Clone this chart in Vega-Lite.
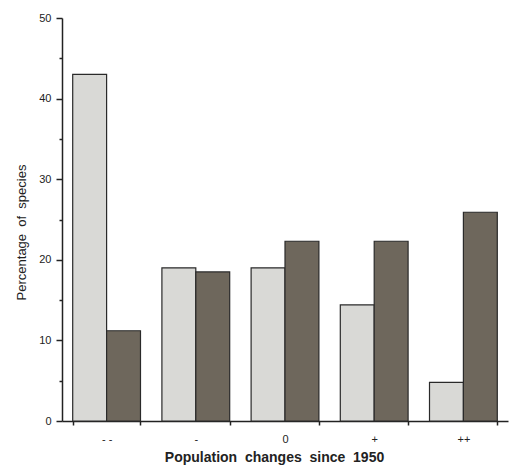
{
  "$schema": "https://vega.github.io/schema/vega-lite/v6.json",
  "autosize": "none",
  "width": 446,
  "height": 403,
  "padding": {"left": 62, "top": 18, "right": 7, "bottom": 55},
  "background": "white",
  "config": {
    "view": {"stroke": null},
    "font": "Liberation Sans",
    "axis": {"domainColor": "#222", "tickColor": "#222", "labelColor": "#222", "titleColor": "#222", "grid": false, "domainWidth": 1.5, "tickWidth": 1.5}
  },
  "data": {
    "values": [
      {"change": "- -", "series": "Series 1", "pct": 43.0},
      {"change": "- -", "series": "Series 2", "pct": 11.2},
      {"change": "-", "series": "Series 1", "pct": 19.0},
      {"change": "-", "series": "Series 2", "pct": 18.5},
      {"change": "0", "series": "Series 1", "pct": 19.0},
      {"change": "0", "series": "Series 2", "pct": 22.3},
      {"change": "+", "series": "Series 1", "pct": 14.4},
      {"change": "+", "series": "Series 2", "pct": 22.3},
      {"change": "++", "series": "Series 1", "pct": 4.8},
      {"change": "++", "series": "Series 2", "pct": 25.9}
    ]
  },
  "mark": {"type": "bar", "stroke": "#2a2a2a", "strokeWidth": 1.2},
  "encoding": {
    "x": {
      "field": "change",
      "type": "nominal",
      "sort": ["- -", "-", "0", "+", "++"],
      "scale": {"paddingInner": 0.24, "paddingOuter": 0.12},
      "axis": {
        "title": "Population\u00a0\u00a0changes\u00a0\u00a0since\u00a0\u00a01950",
        "titleFontSize": 14,
        "titleFontWeight": "bold",
        "titlePadding": 6,
        "titleX": 212,
        "labelAngle": 0,
        "labelFontSize": 11,
        "labelPadding": 8,
        "tickBand": "extent",
        "tickSize": 4
      }
    },
    "xOffset": {"field": "series", "type": "nominal", "scale": {"paddingInner": 0, "paddingOuter": 0}},
    "y": {
      "field": "pct",
      "type": "quantitative",
      "scale": {"domain": [0, 50], "nice": false},
      "axis": {
        "title": "Percentage\u00a0\u00a0of\u00a0\u00a0species",
        "titleFontSize": 13,
        "titleFontWeight": "normal",
        "titlePadding": 10,
        "titleY": 214,
        "values": [0, 5, 10, 15, 20, 25, 30, 35, 40, 45, 50],
        "labelExpr": "datum.value % 10 === 0 ? datum.label : ''",
        "labelFontSize": 11,
        "labelPadding": 5,
        "tickSize": {"condition": {"test": "datum.value % 10 === 0", "value": 6}, "value": 3}
      }
    },
    "fill": {
      "field": "series",
      "type": "nominal",
      "scale": {"domain": ["Series 1", "Series 2"], "range": ["#d9d9d6", "#6e675c"]},
      "legend": null
    }
  }
}
